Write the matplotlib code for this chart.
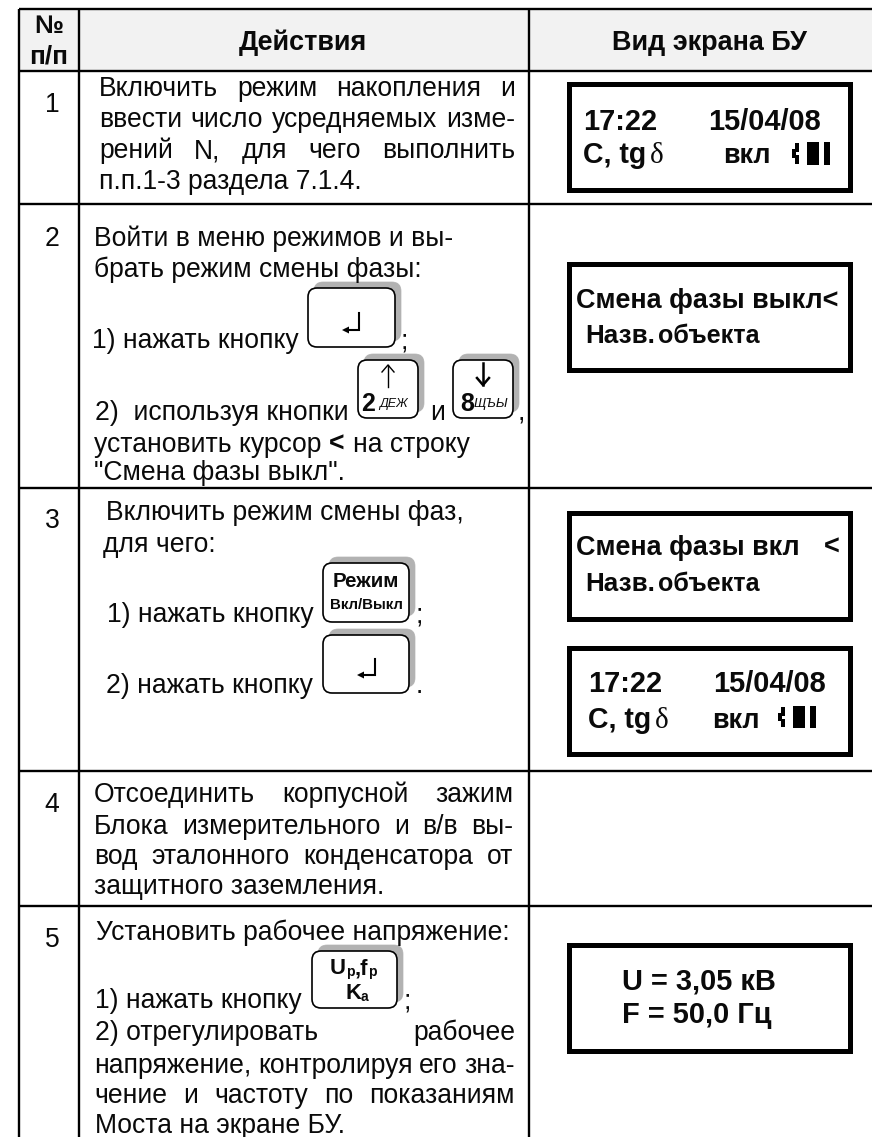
# таблица "режим смены фаз"
import matplotlib
matplotlib.use('Agg')
from matplotlib import pyplot as plt
from matplotlib.patches import FancyBboxPatch, Rectangle

plt.rcParams['font.family'] = ['Liberation Sans', 'DejaVu Sans']

# тексты таблицы
headers = ['Действия', 'Вид экрана БУ']
num_head = ['№', 'п/п']
row_nums = ['1', '2', '3', '4', '5']
step1 = ['Включить режим накопления и', 'ввести число усредняемых изме-',
         'рений N, для чего выполнить', 'п.п.1-3 раздела 7.1.4.']
step2 = ['Войти в меню режимов и вы-', 'брать режим смены фазы:',
         '1) нажать кнопку', '2)  используя кнопки', 'установить курсор', 'на строку',
         '"Смена фазы выкл".']
step3 = ['Включить режим смены фаз,', 'для чего:', '1) нажать кнопку', '2) нажать кнопку']
step4 = ['Отсоединить корпусной зажим', 'Блока измерительного и в/в вы-',
         'вод эталонного конденсатора от', 'защитного заземления.']
step5 = ['Установить рабочее напряжение:', '1) нажать кнопку', '2) отрегулировать', 'рабочее',
         'напряжение, контролируя его зна-', 'чение и частоту по показаниям',
         'Моста на экране БУ.']
screen_time = ['17:22', '15/04/08']
screen_mode = ['C, tg', 'δ', 'вкл']
screen_phase = ['Смена фазы выкл<', 'Смена фазы вкл', '<', 'Назв.', 'объекта']
screen_volt = ['U = 3,05 кВ', 'F = 50,0 Гц']

W, H = 872, 1137
fig = plt.figure(figsize=(W/100, H/100), dpi=100)
ax = fig.add_axes([0, 0, 1, 1])
ax.set_xlim(0, W)
ax.set_ylim(H, 0)
ax.axis('off')
rend = fig.canvas.get_renderer()
PX = 0.72  # px -> pt при dpi=100
BODY = 26.5


def txt(x, y, s, size=BODY, bold=False, ha='left', **kw):
    return ax.text(x, y, s, fontsize=size*PX, fontweight='bold' if bold else 'normal',
                   ha=ha, va='baseline', color='#0a0a0a', **kw)


def justify(x0, x1, y, line):
    # выравнивание по ширине: слова раскидываем между x0 и x1
    words = line.split()
    items = [txt(x0, y, w) for w in words]
    ws = [i.get_window_extent(rend).width for i in items]
    gap = (x1-x0-sum(ws))/(len(words)-1)
    x = x0
    for i, w in zip(items, ws):
        i.set_x(x)
        x += w+gap


def key(x0, y0, x1, y1):
    ax.add_patch(FancyBboxPatch((x0+6, y0-6), x1-x0, y1-y0, boxstyle='round,pad=0,rounding_size=9',
                                fc='#b2b2b2', ec='#b2b2b2', lw=0.5, zorder=2))
    ax.add_patch(FancyBboxPatch((x0, y0), x1-x0, y1-y0, boxstyle='round,pad=0,rounding_size=9',
                                fc='white', ec='black', lw=1.2, zorder=3))


def enter(xv, y0, y1, x0):
    ax.plot([xv, xv, x0+3], [y0, y1, y1], color='black', lw=1.5, zorder=4, solid_joinstyle='miter')
    ax.fill([x0, x0+7, x0+7], [y1, y1-3.5, y1+3.5], color='black', lw=0, zorder=4)


def arrow(x, y0, y1, lw):
    # y1 - конец со стрелкой
    d = 1 if y1 > y0 else -1
    ax.plot([x, x], [y0, y1], color='black', lw=lw, zorder=4)
    ax.plot([x-6, x, x+6], [y1-d*7, y1, y1-d*7], color='black', lw=lw, zorder=4)


def screen(y0, y1):
    ax.add_patch(Rectangle((568.5, y0+2.5), 281, y1-y0-5, fc='white', ec='black', lw=5*PX, zorder=2))


def battery(x, y0, y1):
    h = y1-y0
    for a, b, t, c in [(0, 3, .32, .68), (3, 7, .05, .95), (15, 27, 0, 1), (32, 38, 0, 1)]:
        ax.add_patch(Rectangle((x+a, y0+t*h), b-a, (c-t)*h, fc='black', ec='none', zorder=4))
    ax.add_patch(Rectangle((x+3.5, y0+.45*h), 3.5, .12*h, fc='white', ec='none', zorder=5))


# шапка и сетка
ax.add_patch(Rectangle((19, 9), W-19, 62, fc='#f2f2f2', ec='none', zorder=0))
for y in [9, 71, 204, 488, 771, 906]:
    ax.plot([19, W], [y, y], color='black', lw=1.7, zorder=1, solid_capstyle='butt')
for x in [19, 79, 529]:
    ax.plot([x, x], [9, H], color='black', lw=1.7, zorder=1, solid_capstyle='butt')

txt(49, 33, num_head[0], 26, True, 'center')
txt(49, 64, num_head[1], 26, True, 'center')
txt(303, 50, headers[0], 27, True, 'center')
txt(709, 50, headers[1], 27, True, 'center')

for s, y in zip(row_nums, [112, 246, 528, 812, 947]):
    txt(52, y, s, ha='center')

# шаг 1
justify(99, 515, 96, step1[0])
justify(99, 515, 127, step1[1])
justify(99, 515, 158, step1[2])
txt(99, 189, step1[3])

# шаг 2
txt(94, 246, step2[0])
txt(94, 277, step2[1])
txt(92, 348, step2[2])
key(308, 288, 395, 347)
enter(359, 313, 330, 342)
txt(401, 348, ';')
txt(95, 420, step2[3])
key(358, 360, 418, 418)
arrow(388, 387, 365, 1.0)
txt(361, 411, '2', 25, True, zorder=5)
txt(379, 407, 'ДЕЖ', 12.5, style='italic', zorder=5)
txt(430, 420, 'и')
key(453, 360, 513, 418)
arrow(483, 363, 385, 1.8)
txt(460, 411, '8', 25, True, zorder=5)
txt(474, 407, 'ЩЪЫ', 13.2, style='italic', zorder=5)
txt(518, 420, ',')
txt(94, 452, step2[4])
txt(329, 452, '<', BODY, True)
txt(353, 452, step2[5])
txt(94, 480, step2[6])

# шаг 3
txt(106, 520, step3[0])
txt(103, 552, step3[1])
txt(107, 622, step3[2])
key(323, 563, 409, 622)
txt(366, 587, 'Режим', 20.5, True, 'center', zorder=5)
txt(366, 609, 'Вкл/Выкл', 15, True, 'center', zorder=5)
txt(416, 622, ';')
txt(106, 693, step3[3])
key(323, 635, 409, 693)
enter(375, 659, 675, 357)
txt(416, 693, '.')

# шаг 4
justify(94, 513, 802, step4[0])
justify(94, 513, 834, step4[1])
justify(94, 513, 864, step4[2])
txt(94, 894, step4[3])

# шаг 5
txt(96, 940, step5[0])
txt(95, 1008, step5[1])
key(312, 951, 397, 1008)
x = 330
for s, sz, dy, bx in [('U', 22, 0, 16.5), ('p', 14, 2, 8.5), (',f', 22, 0, 13.5), ('p', 14, 2, 8)]:
    txt(x, 974+dy, s, sz, True, zorder=5)
    x += bx
txt(345, 999, 'K', 22, True, zorder=5)
txt(361, 1001, 'a', 14, True, zorder=5)
txt(404, 1008, ';')
txt(95, 1040, step5[2])
txt(515, 1040, step5[3], ha='right')
justify(94, 515, 1073, step5[4])
justify(94, 515, 1103, step5[5])
txt(95, 1133, step5[6])

# экраны БУ
BIG = 29
for y in [(81, 192), (261, 372), (510, 621), (645, 756), (942, 1053)]:
    screen(*y)

txt(583, 130, screen_time[0], BIG, True, zorder=5)
txt(708, 130, screen_time[1], BIG, True, zorder=5)
txt(583, 163, screen_mode[0], BIG-0.5, True, zorder=5)
txt(650, 163, screen_mode[1], BIG, family='Liberation Serif', zorder=5)
txt(723, 163, screen_mode[2], BIG-2, True, zorder=5)
battery(792, 142, 165)

PH = 27
txt(576, 308, screen_phase[0], PH, True, zorder=5)
txt(585, 343, screen_phase[3], 26, True, zorder=5)
txt(658, 343, screen_phase[4], 25, True, zorder=5)
txt(576, 555, screen_phase[1], PH, True, zorder=5)
txt(824, 555, screen_phase[2], PH, True, zorder=5)
txt(585, 591, screen_phase[3], 26, True, zorder=5)
txt(658, 591, screen_phase[4], 25, True, zorder=5)

txt(588, 692, screen_time[0], BIG, True, zorder=5)
txt(713, 692, screen_time[1], BIG, True, zorder=5)
txt(588, 728, screen_mode[0], BIG-0.5, True, zorder=5)
txt(655, 728, screen_mode[1], BIG, family='Liberation Serif', zorder=5)
txt(712, 728, screen_mode[2], BIG-2, True, zorder=5)
battery(778, 706, 728)

txt(622, 990, screen_volt[0], BIG, True, zorder=5)
txt(622, 1023, screen_volt[1], BIG, True, zorder=5)

fig.savefig('out.png', dpi=100)
